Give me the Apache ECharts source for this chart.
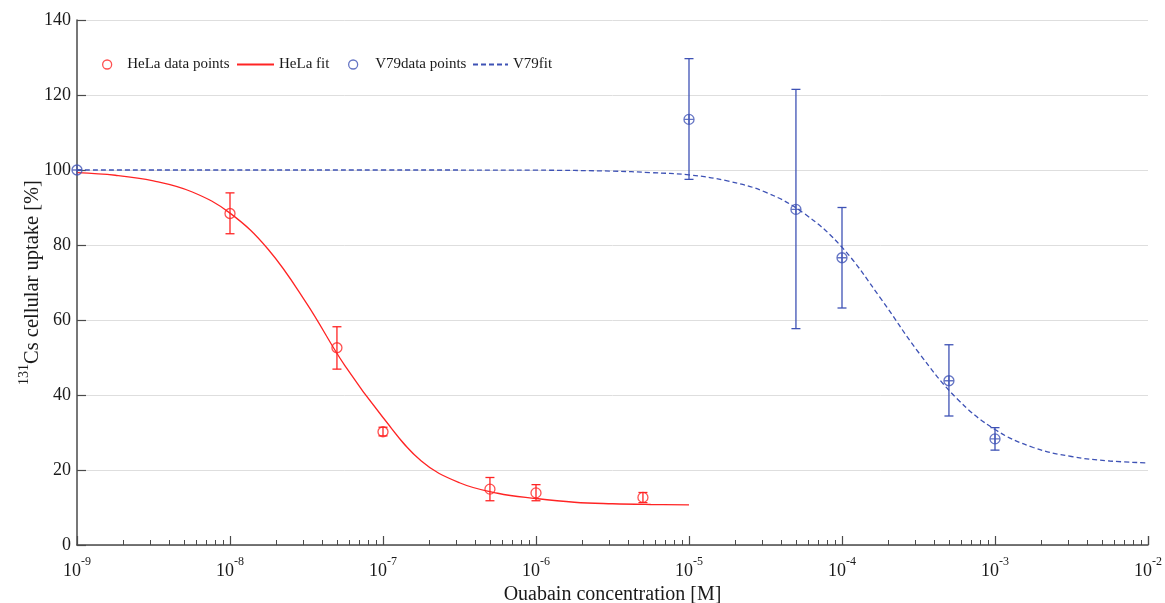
<!DOCTYPE html>
<html>
<head>
<meta charset="utf-8">
<script src="https://cdn.jsdelivr.net/npm/echarts@6/dist/echarts.min.js"></script>
<style>html,body{margin:0;padding:0;background:#fff}#c{width:1165px;height:603px}</style>
</head>
<body>
<div id="c"></div>
<script>
// ---- data ----
const helaX  = [1e-8, 5e-8, 1e-7, 5e-7, 1e-6, 5e-6];
const helaY  = [88.4, 52.6, 30.2, 14.9, 13.9, 12.7];
const helaLo = [83.0, 46.9, 29.1, 11.8, 11.8, 11.3];
const helaHi = [93.9, 58.2, 31.4, 18.0, 16.1, 14.0];

const v79X  = [1e-9, 1e-5, 5e-5, 1e-4, 5e-4, 1e-3];
const v79Y  = [100, 113.5, 89.5, 76.6, 43.8, 28.3];
const v79Lo = [100, 97.5, 57.7, 63.2, 34.4, 25.3];
const v79Hi = [100, 129.7, 121.5, 90.0, 53.4, 31.3];

const helaFitX = [1e-9, 1.78e-9, 3.16e-9, 5.62e-9, 1e-8, 1.78e-8, 3.16e-8, 5.62e-8, 1e-7, 1.78e-7, 3.16e-7, 5.62e-7, 1e-6, 1.78e-6, 3.16e-6, 5.62e-6, 1e-5];
const helaFitY = [99.3, 98.6, 97.1, 94.2, 88.5, 78.8, 64.5, 47.9, 34.0, 22.4, 16.6, 13.8, 12.4, 11.4, 11.0, 10.8, 10.7];

const v79FitX = [1e-9, 1e-8, 1e-7, 1e-6, 3.16e-6, 5.62e-6, 1e-5, 1.78e-5, 3.16e-5, 5.62e-5, 1e-4, 1.78e-4, 3.16e-4, 5.62e-4, 1e-3, 1.78e-3, 3.16e-3, 5.62e-3, 1e-2];
const v79FitY = [100, 100, 100, 99.95, 99.7, 99.3, 98.7, 97.1, 94.1, 88.5, 79.4, 65.9, 51.4, 39.1, 30.8, 26.0, 23.6, 22.4, 21.9];

const xTickExps = ['-9', '-8', '-7', '-6', '-5', '-4', '-3', '-2'];
const yTicks = [0, 20, 40, 60, 80, 100, 120, 140];

const RED = '#ff2424';
const BLUE = '#3e52b5';
const FONT = '"Liberation Serif", "Times New Roman", serif';

const zip = (a, b) => a.map((v, i) => [v, b[i]]);
const zip3 = (a, b, c) => a.map((v, i) => [v, b[i], c[i]]);

function errRender(color) {
  return function (params, api) {
    const x = api.value(0), lo = api.value(1), hi = api.value(2);
    if (lo === hi) return null;
    const p1 = api.coord([x, lo]), p2 = api.coord([x, hi]);
    const w = 4.5;
    const st = { stroke: color, lineWidth: 1.3 };
    return { type: 'group', children: [
      { type: 'line', shape: { x1: p1[0], y1: p1[1], x2: p2[0], y2: p2[1] }, style: st },
      { type: 'line', shape: { x1: p1[0]-w, y1: p1[1], x2: p1[0]+w, y2: p1[1] }, style: st },
      { type: 'line', shape: { x1: p2[0]-w, y1: p2[1], x2: p2[0]+w, y2: p2[1] }, style: st }
    ]};
  };
}

const chart = echarts.init(document.getElementById('c'), null, { renderer: 'canvas' });
const legendBase = { orient: 'horizontal', top: 57, padding: 0, itemHeight: 9, itemGap: 0,
  textStyle: { fontFamily: FONT, fontSize: 15, color: '#1a1a1a' } };
const hiddenSym = { opacity: 0, color: 'transparent', borderColor: 'transparent', borderWidth: 0 };

chart.setOption({
  backgroundColor: '#fff',
  animation: false,
  grid: { left: 77, right: 17, top: 20, bottom: 58, containLabel: false, outerBoundsMode: 'none' },
  legend: [
    Object.assign({}, legendBase, { left: 102, itemWidth: 30,
      data: [{ name: 'HeLa data points', icon: 'circle', itemStyle: { color: 'transparent', borderColor: RED, borderWidth: 1.3 } }] }),
    Object.assign({}, legendBase, { left: 236, itemWidth: 37, data: [{ name: 'HeLa fit', itemStyle: hiddenSym }] }),
    Object.assign({}, legendBase, { left: 348, itemWidth: 34,
      data: [{ name: 'V79data points', icon: 'circle', itemStyle: { color: 'transparent', borderColor: BLUE, borderWidth: 1.3 } }] }),
    Object.assign({}, legendBase, { left: 472, itemWidth: 35, data: [{ name: 'V79fit', itemStyle: hiddenSym }] })
  ],
  xAxis: {
    type: 'log', logBase: 10, min: 1e-9, max: 1e-2,
    name: 'Ouabain concentration [M]', nameLocation: 'middle', nameGap: 33,
    nameTextStyle: { fontFamily: FONT, fontSize: 20, color: '#1a1a1a' },
    axisLine: { show: true, onZero: false, lineStyle: { color: '#4a4a4a', width: 1.5 } },
    axisTick: { show: true, inside: true, length: 9, lineStyle: { color: '#4a4a4a', width: 1.2 } },
    minorTick: { show: true, splitNumber: 9, length: 5, lineStyle: { color: '#4a4a4a', width: 1 } },
    splitLine: { show: false },
    axisLabel: {
      margin: 11,
      formatter: function (v) {
        const e = Math.round(Math.log10(v));
        const lab = xTickExps.find(s => Number(s) === e);
        return '{b|10}{s|' + (lab !== undefined ? lab : e) + '}';
      },
      rich: {
        b: { fontFamily: FONT, fontSize: 18, color: '#1a1a1a', lineHeight: 24, verticalAlign: 'bottom' },
        s: { fontFamily: FONT, fontSize: 12, color: '#1a1a1a', lineHeight: 12, verticalAlign: 'top' }
      }
    }
  },
  yAxis: {
    type: 'value', min: yTicks[0], max: yTicks[yTicks.length - 1], interval: 20,
    name: '{s|131}{n|Cs cellular uptake [%]}', nameLocation: 'middle', nameGap: 34,
    nameMoveOverlap: false,
    nameTextStyle: { fontFamily: FONT, fontSize: 20.5, color: '#1a1a1a',
      rich: {
        s: { fontFamily: FONT, fontSize: 14, color: '#1a1a1a', lineHeight: 14, verticalAlign: 'top' },
        n: { fontFamily: FONT, fontSize: 20.5, color: '#1a1a1a', lineHeight: 26, verticalAlign: 'bottom' }
      } },
    axisLine: { show: true, lineStyle: { color: '#4a4a4a', width: 1.5 } },
    axisTick: { show: true, inside: true, length: 9, lineStyle: { color: '#4a4a4a', width: 1.2 } },
    splitLine: { show: true, lineStyle: { color: '#dedede', width: 1 } },
    axisLabel: { margin: 6, fontFamily: FONT, fontSize: 18, color: '#1a1a1a' }
  },
  series: [
    { name: 'HeLa fit', type: 'line', data: zip(helaFitX, helaFitY), smooth: 0.4, symbol: 'none',
      lineStyle: { color: RED, width: 1.3 }, itemStyle: { color: RED }, z: 2 },
    { name: 'V79fit', type: 'line', data: zip(v79FitX, v79FitY), smooth: 0.4, symbol: 'none',
      lineStyle: { color: BLUE, width: 1.3, type: [5, 3] }, itemStyle: { color: BLUE }, z: 2 },
    { name: 'HeLa err', type: 'custom', renderItem: errRender(RED), data: zip3(helaX, helaLo, helaHi),
      encode: { x: 0, y: [1, 2] }, z: 3, silent: true },
    { name: 'V79 err', type: 'custom', renderItem: errRender(BLUE), data: zip3(v79X, v79Lo, v79Hi),
      encode: { x: 0, y: [1, 2] }, z: 3, silent: true },
    { name: 'HeLa data points', type: 'scatter', data: zip(helaX, helaY), symbol: 'circle', symbolSize: 10,
      itemStyle: { color: 'transparent', borderColor: RED, borderWidth: 1.3 }, z: 4 },
    { name: 'V79data points', type: 'scatter', data: zip(v79X, v79Y),
      symbol: 'path://M10,0A10,10,0,1,1,10,20A10,10,0,1,1,10,0ZM0,10L20,10M10,0L10,20', symbolSize: 10,
      itemStyle: { color: 'transparent', borderColor: BLUE, borderWidth: 1.3 }, z: 4 }
  ]
});
</script>
</body>
</html>
